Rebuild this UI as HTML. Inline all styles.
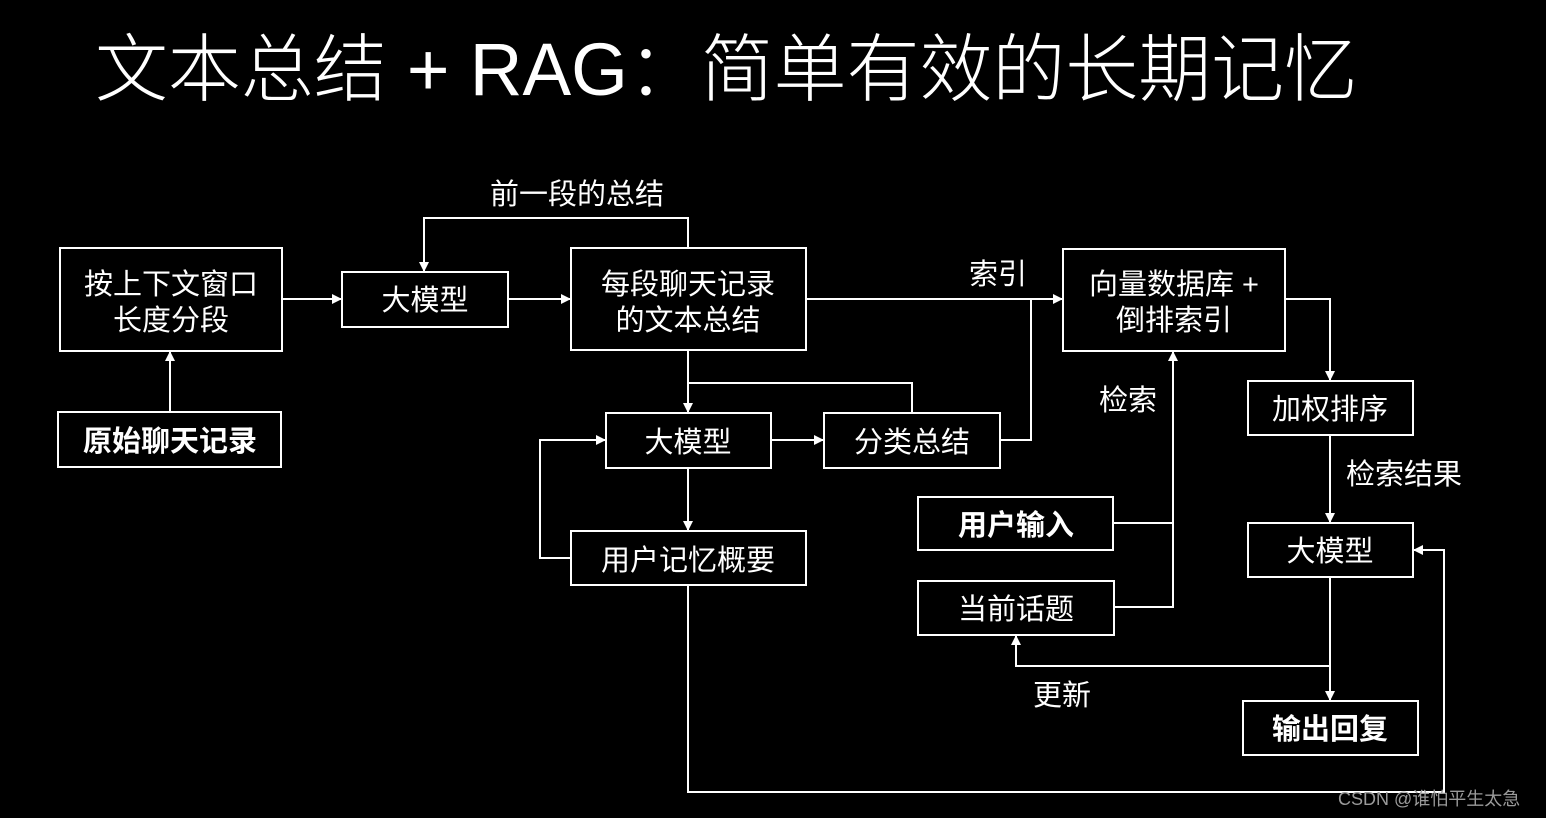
<!DOCTYPE html>
<html><head><meta charset="utf-8"><style>
html,body{margin:0;padding:0;background:#000;}
svg{display:block}
text{font-family:"Liberation Sans","Noto Sans CJK SC",sans-serif;fill:#fff;}
</style></head><body>
<svg width="1546" height="818" viewBox="0 0 1546 818" xmlns="http://www.w3.org/2000/svg">
<defs><marker id="a" markerWidth="10" markerHeight="10" refX="9" refY="5" orient="auto" markerUnits="userSpaceOnUse"><path d="M0,0 L10,5 L0,10 z" fill="#fff"/></marker></defs>
<rect width="1546" height="818" fill="#000"/>
<text x="95" y="95" font-size="74" font-weight="300" textLength="1262" lengthAdjust="spacingAndGlyphs">文本总结 + RAG：简单有效的长期记忆</text>
<g fill="none" stroke="#fff" stroke-width="2">
<rect x="60" y="248" width="222" height="103"/>
<rect x="58" y="412" width="223" height="55"/>
<rect x="342" y="272" width="166" height="55"/>
<rect x="571" y="248" width="235" height="102"/>
<rect x="606" y="413" width="165" height="55"/>
<rect x="824" y="413" width="176" height="55"/>
<rect x="571" y="531" width="235" height="54"/>
<rect x="1063" y="249" width="222" height="102"/>
<rect x="1248" y="381" width="165" height="54"/>
<rect x="1248" y="523" width="165" height="54"/>
<rect x="918" y="497" width="195" height="53"/>
<rect x="918" y="581" width="196" height="54"/>
<rect x="1243" y="701" width="175" height="54"/>
</g>
<g fill="none" stroke="#fff" stroke-width="2">
<path d="M170,412 V352" marker-end="url(#a)"/>
<path d="M282,299 H341" marker-end="url(#a)"/>
<path d="M508,299 H570" marker-end="url(#a)"/>
<path d="M688,248 V218 H424 V271" marker-end="url(#a)"/>
<path d="M806,299 H1062" marker-end="url(#a)"/>
<path d="M1000,440 H1031 V299"/>
<path d="M688,350 V412" marker-end="url(#a)"/>
<path d="M688,383 H912 V413"/>
<path d="M771,440 H823" marker-end="url(#a)"/>
<path d="M688,468 V530" marker-end="url(#a)"/>
<path d="M571,558 H540 V440 H605" marker-end="url(#a)"/>
<path d="M688,585 V792 H1444 V550 H1414" marker-end="url(#a)"/>
<path d="M1113,523 H1173"/>
<path d="M1114,607 H1173 V352" marker-end="url(#a)"/>
<path d="M1285,299 H1330 V380" marker-end="url(#a)"/>
<path d="M1330,435 V522" marker-end="url(#a)"/>
<path d="M1330,577 V700" marker-end="url(#a)"/>
<path d="M1330,666 H1016 V636" marker-end="url(#a)"/>
</g>
<g font-size="29" text-anchor="middle">
<text x="171" y="294">按上下文窗口</text>
<text x="171" y="330">长度分段</text>
<text x="170" y="451" font-weight="bold">原始聊天记录</text>
<text x="425" y="310">大模型</text>
<text x="688" y="294">每段聊天记录</text>
<text x="688" y="330">的文本总结</text>
<text x="688" y="452">大模型</text>
<text x="912" y="452">分类总结</text>
<text x="688" y="570">用户记忆概要</text>
<text x="1174" y="294">向量数据库 +</text>
<text x="1174" y="330">倒排索引</text>
<text x="1330" y="419">加权排序</text>
<text x="1330" y="561">大模型</text>
<text x="1016" y="535" font-weight="bold">用户输入</text>
<text x="1016" y="619">当前话题</text>
<text x="1330" y="739" font-weight="bold">输出回复</text>
<text x="577" y="204">前一段的总结</text>
<text x="998" y="284">索引</text>
<text x="1128" y="410">检索</text>
<text x="1404" y="484">检索结果</text>
<text x="1062" y="705">更新</text>
</g>
<text x="1338" y="805" font-size="18" fill="#9a9a9a" style="fill:#9a9a9a">CSDN @谁怕平生太急</text>
</svg>
</body></html>
